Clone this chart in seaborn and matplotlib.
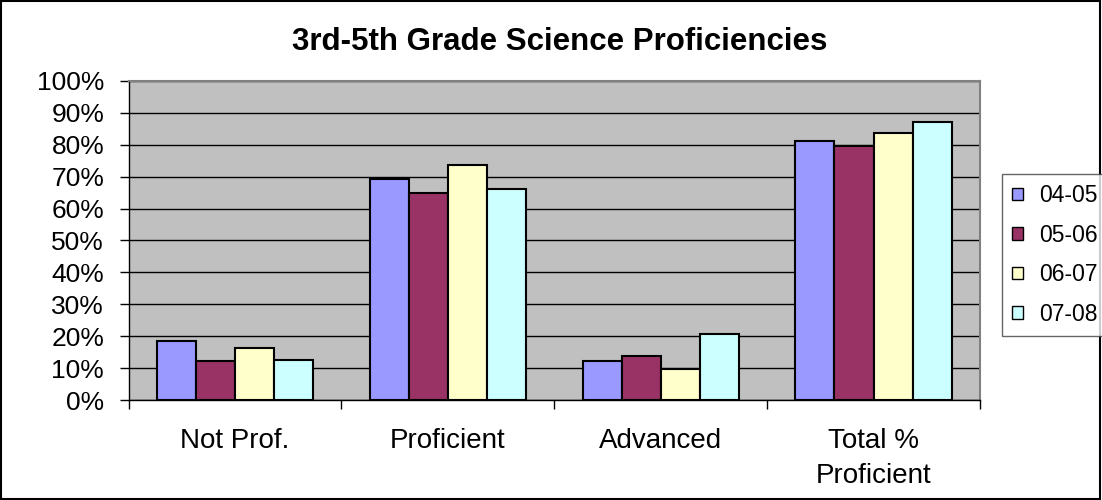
import numpy as np
import pandas as pd
import matplotlib
matplotlib.use("Agg")
import matplotlib.pyplot as plt
import seaborn as sns
from matplotlib.patches import Patch, Rectangle
from matplotlib.ticker import PercentFormatter, FixedLocator

categories = ["Not Prof.", "Proficient", "Advanced", "Total %\nProficient"]
years = ["04-05", "05-06", "06-07", "07-08"]
v_0405 = [18.5, 69.2, 12.1, 81.3]
v_0506 = [12.1, 65.0, 13.9, 79.6]
v_0607 = [16.2, 73.7, 9.7, 83.7]
v_0708 = [12.6, 66.2, 20.8, 87.1]
colors = ["#9999FF", "#993366", "#FFFFCC", "#CCFFFF"]

rows = []
for yr, vals in zip(years, [v_0405, v_0506, v_0607, v_0708]):
    for c, v in zip(categories, vals):
        rows.append({"Category": c, "Year": yr, "Value": v})
df = pd.DataFrame(rows)

sns.set_theme(style="white")
plt.rcParams['font.family'] = ['Liberation Sans', 'DejaVu Sans']
plt.rcParams['text.color'] = 'black'
plt.rcParams['legend.labelcolor'] = 'black'

W, H = 1102, 500
fig = plt.figure(figsize=(W / 100, H / 100), dpi=100)
ax = fig.add_axes([128.5 / W, 100 / H, (980 - 128.5) / W, 319 / H])
ax.set_facecolor("#C0C0C0")

sns.barplot(data=df, x="Category", y="Value", hue="Year", order=categories,
            hue_order=years, palette=colors, width=0.734, edgecolor="black",
            linewidth=1.5, ax=ax, legend=False, saturation=1)

ax.set_ylim(0, 100)
ax.set_xlim(-0.5, 3.5)
ax.yaxis.set_major_locator(FixedLocator(np.arange(0, 101, 10)))
ax.yaxis.set_major_formatter(PercentFormatter(decimals=0))
ax.grid(axis="y", color="black", linewidth=1)
ax.set_axisbelow(True)
ax.set_xlabel("")
ax.set_ylabel("")
ax.set_xticks(range(len(categories)))
ax.set_xticklabels(categories, linespacing=1.45, color="black")
ax.tick_params(axis="x", which="major", length=0, labelsize=20, pad=20)
ax.tick_params(axis="y", which="major", length=6.5, width=1, color="black",
               direction="out", labelsize=19, pad=11, left=True, labelcolor="black")
ax.set_xticks([-0.5, 0.5, 1.5, 2.5, 3.5], minor=True)
ax.tick_params(axis="x", which="minor", length=6.5, width=1, color="black",
               direction="out", bottom=True)
for s in ["top", "right"]:
    ax.spines[s].set_color("#808080")
    ax.spines[s].set_linewidth(1.5)
for s in ["left", "bottom"]:
    ax.spines[s].set_color("black")
    ax.spines[s].set_linewidth(1)

fig.text(560 / W, 1 - 50 / H, "3rd-5th Grade Science Proficiencies",
         ha="center", va="baseline", fontsize=22.5, fontweight="bold", color="black")

handles = [Patch(facecolor=c, edgecolor="black", linewidth=1) for c in colors]
leg = fig.legend(handles, years, loc="upper left",
                 bbox_to_anchor=(1002 / W, 1 - 174 / H),
                 frameon=True, fontsize=16.5, handlelength=0.45, handleheight=0.45,
                 handletextpad=0.7, labelspacing=0.72, borderpad=0.45,
                 borderaxespad=0, fancybox=False, labelcolor="black")
leg.get_frame().set_edgecolor("#404040")
leg.get_frame().set_linewidth(1)

fig.patches.append(Rectangle((0.001, 0.002), 0.997, 0.996, transform=fig.transFigure,
                             fill=False, edgecolor="black", linewidth=1.5))

fig.savefig("out.png", dpi=100, facecolor="white")
